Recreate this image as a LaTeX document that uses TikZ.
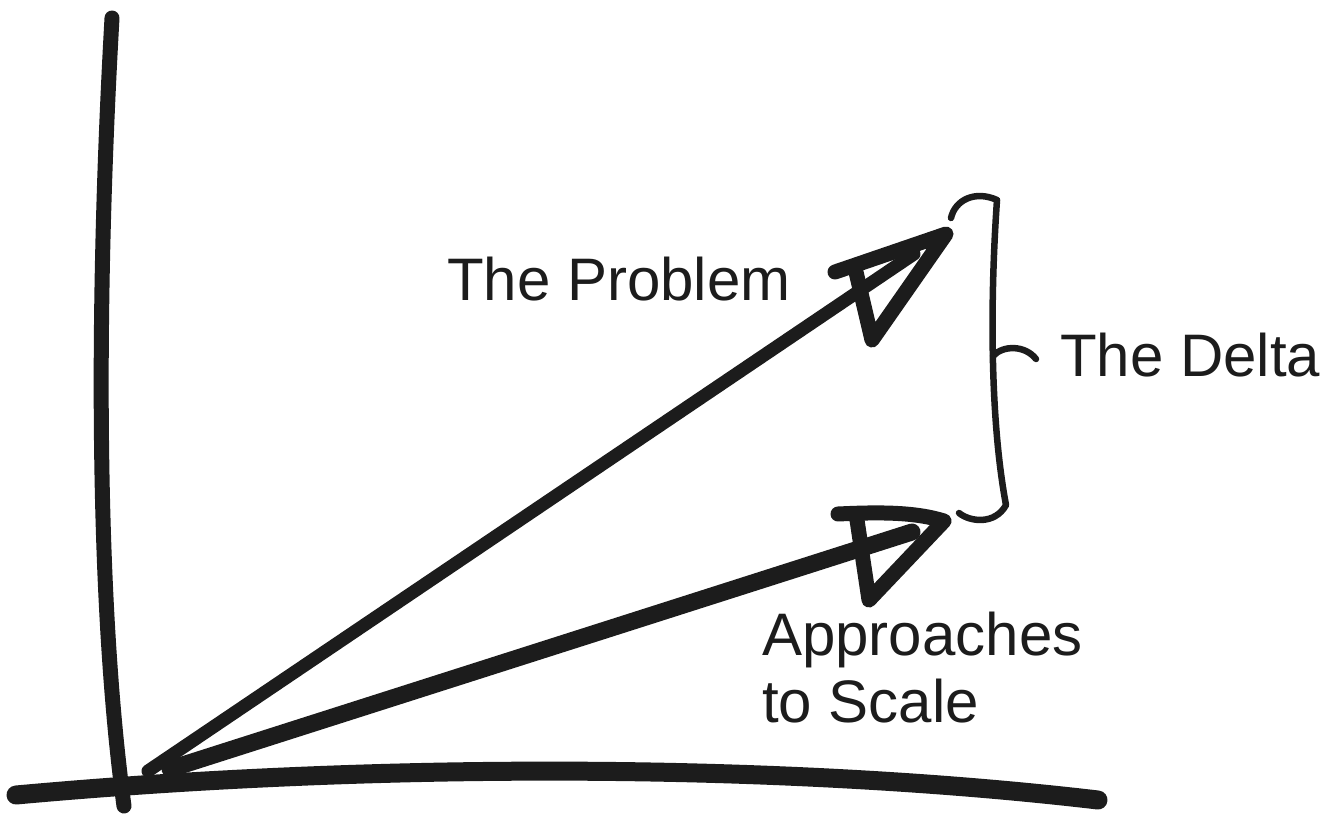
\documentclass[tikz,border=0pt]{standalone}
\usepackage{fontspec}
\setmainfont{Liberation Sans}
\definecolor{ink}{HTML}{1C1C1C}
\begin{document}
\begin{tikzpicture}[x=1pt,y=-1pt,
  stroke/.style={draw=ink,line cap=round,line join=round},
  axisline/.style={stroke,line width=15},
  shaft/.style={stroke,line width=13},
  head/.style={stroke,line width=15,fill=none},
  brace/.style={stroke,line width=6.5},
  lbl/.style={text=ink,font=\fontsize{60}{67}\selectfont,inner sep=0pt,anchor=base west,align=left}]
\useasboundingbox[fill=white] (0,0) rectangle (1330,819);
% axes
\coordinate (ytop) at (112,18);
\coordinate (ybot) at (124,806);
\coordinate (xl) at (16,795);
\coordinate (xr) at (1098,800);
\draw[axisline] (ytop) .. controls (96,300) and (96,600) .. (ybot);
\draw[axisline,line width=19] (xl) .. controls (400,760) and (800,765) .. (xr);
% origins
\coordinate (o1) at (148,771);
\coordinate (o2) at (170,769);
% problem arrow
\coordinate (p1) at (914,254);
\coordinate (pt) at (946,234);
\coordinate (pl) at (835,272);
\coordinate (pb) at (872,340);
\coordinate (pm) at (856,272);
\draw[shaft] (o1) -- (p1);
\draw[head] (pl) -- (pt) -- (pb) -- (pm);
% approaches arrow
\coordinate (a1) at (912,532);
\coordinate (at) at (944,521);
\coordinate (al) at (838,514);
\coordinate (ab) at (869,600);
\coordinate (am) at (857,520);
\draw[shaft,line width=17] (o2) -- (a1);
\draw[head] (al) .. controls (880,512) and (915,512) .. (at) -- (ab) -- (am);
% brace
\coordinate (bt) at (951,218);
\coordinate (bb) at (959,513);
\coordinate (bm) at (1036,359);
\draw[brace] (bt) .. controls (955,200) and (975,190) .. (997,200)
  .. controls (990,300) and (990,420) .. (1006,505)
  .. controls (995,525) and (970,522) .. (bb);
\draw[brace] (993,356) .. controls (1003,345) and (1025,345) .. (bm);
% labels
\node[lbl] (prob) at (447,300) {The Problem};
\node[lbl] (delta) at (1060,376) {The Delta};
\node[lbl] (appr) at (762,722) {Approaches\\to Scale};
\end{tikzpicture}
\end{document}
